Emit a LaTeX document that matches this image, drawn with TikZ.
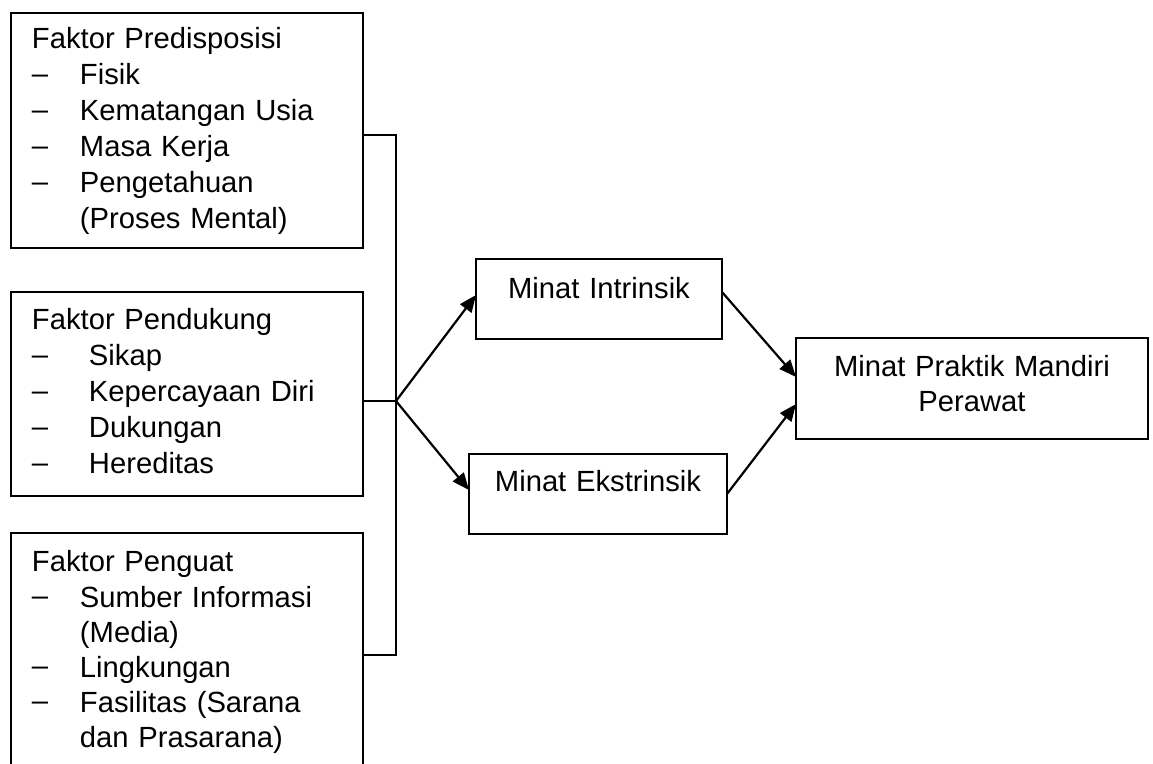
\documentclass[tikz,border=0pt]{standalone}
\usepackage{fontspec}
\setmainfont{Liberation Sans}
\usetikzlibrary{arrows.meta}
\usetikzlibrary{shapes}

\newcommand{\dashitem}[2][24pt]{\makebox[#1][l]{\raisebox{0.9pt}{–}}#2}

\begin{document}
\begin{tikzpicture}[x = 0.5pt, y = -0.5pt]
\tikzstyle{boxStyle} = [rectangle, draw, line width = 1.1pt, inner sep = 0pt, outer sep = 0pt, anchor = north west]
\tikzstyle{factorStyle} = [boxStyle, align = left, inner xsep = 10.5pt, text width = 155pt, font = \fontsize{14.6pt}{18pt}\selectfont]
\tikzstyle{minatStyle} = [boxStyle, align = center, font = \fontsize{14.6pt}{17.5pt}\selectfont]
\tikzstyle{EdgeStyle} = [line width = 1.1pt]
\tikzstyle{ArrowStyle} = [EdgeStyle, -{Triangle[length = 8.5pt, width = 7pt]}]
\useasboundingbox (0,0) rectangle (1153,764);
\node[factorStyle, text height = 18pt, text depth = 99.5pt] (predisposisi) at (11,13) {Faktor Predisposisi\\ \dashitem{Fisik}\\ \dashitem{Kematangan Usia}\\ \dashitem{Masa Kerja}\\ \dashitem{Pengetahuan}\\ \hspace*{24pt}(Proses Mental)};
\node[factorStyle, text height = 19pt, text depth = 83pt] (pendukung) at (11,292) {Faktor Pendukung\\ \dashitem[28.5pt]{Sikap}\\ \dashitem[28.5pt]{Kepercayaan Diri}\\ \dashitem[28.5pt]{Dukungan}\\ \dashitem[28.5pt]{Hereditas}};
\node[factorStyle, text height = 19.5pt, text depth = 100pt, font = \fontsize{14.6pt}{17.6pt}\selectfont] (penguat) at (11,533) {Faktor Penguat\\ \dashitem{Sumber Informasi}\\ \hspace*{24pt}(Media)\\ \dashitem{Lingkungan}\\ \dashitem{Fasilitas (Sarana}\\ \hspace*{24pt}dan Prasarana)};
\node[minatStyle, text width = 123pt, text height = 20pt, text depth = 20pt] (intrinsik) at (476,259) {Minat Intrinsik};
\node[minatStyle, text width = 129pt, text height = 19pt, text depth = 21pt] (ekstrinsik) at (469,454) {Minat Ekstrinsik};
\node[minatStyle, text width = 176pt, text height = 19.5pt, text depth = 31pt] (praktik) at (796,338) {Minat Praktik Mandiri\\ Perawat};
\coordinate (jtop) at (396,135);
\coordinate (jmid) at (396,401);
\coordinate (jbot) at (396,655);
\draw[EdgeStyle] (predisposisi.east |- jtop) -- (jtop) -- (jbot) -- (penguat.east |- jbot);
\draw[EdgeStyle] (pendukung.east |- jmid) -- (jmid);
\draw[ArrowStyle] (jmid) -- ([yshift = 2pt]intrinsik.west);
\draw[ArrowStyle] (jmid) -- ([yshift = 2pt]ekstrinsik.west);
\draw[ArrowStyle] ([yshift = 3.5pt]intrinsik.east) -- ([yshift = 5.75pt]praktik.west);
\draw[ArrowStyle] (ekstrinsik.east) -- ([yshift = -7.75pt]praktik.west);
\end{tikzpicture}
\end{document}
